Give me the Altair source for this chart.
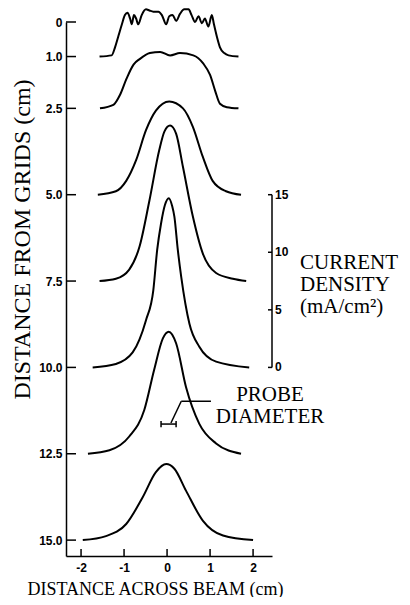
import altair as alt
import pandas as pd

# ---------------- data ----------------
# distance from grids (cm) of each trace (trace baseline sits at this distance)
distances = [1.0, 2.5, 5.0, 7.5, 10.0, 12.5, 15.0]

# distance across beam (cm) and current density (mA/cm^2) of each trace
x_d1 = [-1.57, -1.29, -1.21, -1.13, -1.05, -0.98, -0.92, -0.86, -0.82, -0.77, -0.72, -0.67,
        -0.59, -0.49, -0.41, -0.32, -0.20, -0.12, -0.02, 0.05, 0.13, 0.21, 0.30, 0.40,
        0.50, 0.57, 0.65, 0.73, 0.81, 0.88, 0.96, 1.04, 1.09, 1.16, 1.23, 1.33, 1.43, 1.66]
j_d1 = [0.0, 0.1, 0.8, 1.8, 2.8, 3.6, 3.8, 3.3, 2.8, 3.6, 3.3, 2.8,
        3.6, 4.1, 4.0, 3.9, 3.9, 3.6, 2.8, 3.5, 3.6, 3.1, 3.7, 4.1,
        4.1, 3.6, 3.0, 3.5, 2.9, 3.3, 2.6, 3.6, 2.8, 1.7, 0.8, 0.3, 0.1, 0.0]

x_d2 = [-1.56, -1.25, -1.09, -0.94, -0.78, -0.63, -0.40, -0.16, 0.07, 0.30, 0.61, 0.84,
        1.00, 1.12, 1.23, 1.39, 1.66]
j_d2 = [0.0, 0.3, 1.2, 2.6, 3.8, 4.3, 4.8, 4.9, 4.6, 4.8, 4.6, 3.9,
        2.9, 1.5, 0.4, 0.1, 0.0]

x_d3 = [-1.61, -1.19, -0.95, -0.72, -0.49, -0.26, 0.05, 0.37, 0.60, 0.83, 1.06, 1.37, 1.72]
j_d3 = [0.0, 0.3, 1.2, 3.0, 5.6, 7.3, 8.1, 7.5, 5.9, 3.3, 1.2, 0.3, 0.0]

x_d4 = [-1.57, -1.19, -0.88, -0.64, -0.41, -0.18, -0.06, 0.07, 0.21, 0.37, 0.60, 0.83,
        1.14, 1.53, 1.84]
j_d4 = [0.0, 0.2, 1.0, 3.0, 7.0, 11.4, 13.0, 13.5, 12.8, 9.9, 5.6, 2.4, 0.7, 0.2, 0.0]

x_d5 = [-1.73, -1.19, -0.80, -0.49, -0.32, -0.23, -0.14, -0.05, 0.04, 0.12, 0.17, 0.25,
        0.33, 0.52, 0.75, 1.14, 1.91]
j_d5 = [0.0, 0.3, 1.3, 4.1, 6.7, 10.2, 12.5, 14.1, 14.7, 14.0, 13.1, 10.2,
        7.85, 3.8, 1.8, 0.5, 0.0]

x_d6 = [-1.84, -1.34, -0.88, -0.53, -0.30, -0.10, 0.04, 0.21, 0.44, 0.75, 1.14, 1.72]
j_d6 = [0.0, 0.3, 1.5, 3.8, 7.3, 10.0, 10.6, 9.6, 5.8, 2.6, 0.9, 0.0]

x_d7 = [-1.96, -1.42, -0.95, -0.57, -0.26, -0.02, 0.17, 0.44, 0.83, 1.30, 2.00]
j_d7 = [0.0, 0.35, 1.4, 3.7, 5.9, 6.6, 6.2, 4.3, 1.7, 0.4, 0.0]

trace_x = [x_d1, x_d2, x_d3, x_d4, x_d5, x_d6, x_d7]
trace_j = [j_d1, j_d2, j_d3, j_d4, j_d5, j_d6, j_d7]

# 15 mA/cm^2 spans 5 cm of the distance axis
J_PER_CM = 3.0
# current-density scale bar: its zero sits on the 10.0 cm trace baseline
scale_base = 10.0
scale_ticks = [0, 5, 10, 15]
scale_labels = ["0", "5", "10", "15"]

y_ticks = [0, 1.0, 2.5, 5.0, 7.5, 10.0, 12.5, 15.0]
y_tick_labels = ["0", "1.0", "2.5", "5.0", "7.5", "10.0", "12.5", "15.0"]
x_ticks = [-2, -1, 0, 1, 2]
x_tick_labels = ["-2", "-1", "0", "1", "2"]

x_title = "DISTANCE ACROSS BEAM (cm)"
y_title = "DISTANCE FROM GRIDS (cm)"
density_text = ["CURRENT", "DENSITY", "(mA/cm²)"]
probe_text = ["PROBE", "DIAMETER"]

# probe-diameter bracket (cm) and its leader line
probe_x = [-0.14, 0.21]
probe_y = 11.64
leader_x = [1.02, 0.33, 0.09]
leader_y = [10.98, 10.98, 11.61]

# ---------------- build ----------------
rows = []
for d, xs, js in zip(distances, trace_x, trace_j):
    for i, (xv, jv) in enumerate(zip(xs, js)):
        rows.append({"dist": d, "x": xv, "j": jv, "i": i})
curves = pd.DataFrame(rows)


def label_expr(vals, labels):
    expr = "''"
    for v, l in reversed(list(zip(vals, labels))):
        expr = f"abs(datum.value - ({v})) < 1e-6 ? '{l}' : ({expr})"
    return expr


W, H = 206, 534
x_scale = alt.Scale(domain=[-2.35, 2.44], nice=False, zero=False)
y_scale = alt.Scale(domain=[0, 15.46], reverse=True, nice=False, zero=False)

LABEL_FONT = "Liberation Sans"
SERIF = "Liberation Serif"

x_axis = alt.Axis(
    values=x_ticks, labelExpr=label_expr(x_ticks, x_tick_labels),
    labelFont=LABEL_FONT, labelFontSize=12, labelFontWeight="bold", labelColor="black",
    labelPadding=6, labelOverlap=False, ticks=False, tickSize=0, grid=False,
    domainColor="black", domainWidth=1.5,
    title=x_title, titleFont=SERIF, titleFontSize=18, titleFontWeight="normal",
    titleColor="black", titleX=89, titleY=38, titleAlign="center",
    titleBaseline="alphabetic",
)
y_axis = alt.Axis(
    values=y_ticks, labelExpr=label_expr(y_ticks, y_tick_labels),
    labelFont=LABEL_FONT, labelFontSize=12, labelFontWeight="bold", labelColor="black",
    labelPadding=4, labelOverlap=False, ticks=False, tickSize=0, grid=False,
    domainColor="black", domainWidth=1.5,
    title=y_title, titleFont=SERIF, titleFontSize=24, titleFontWeight="normal",
    titleColor="black", titleAngle=270, titleX=-44, titleY=217,
    titleAlign="center", titleBaseline="middle",
)

lines = alt.Chart(curves).transform_calculate(
    y=f"datum.dist - datum.j / {J_PER_CM}"
).mark_line(color="black", strokeWidth=2, interpolate="monotone").encode(
    x=alt.X("x:Q", scale=x_scale, axis=x_axis),
    y=alt.Y("y:Q", scale=y_scale, axis=y_axis),
    detail="dist:N",
    order="i:Q",
)

ytick_rules = alt.Chart(pd.DataFrame({"y": y_ticks})).mark_rule(
    color="black", strokeWidth=1.5
).encode(
    y=alt.Y("y:Q", scale=y_scale),
    x=alt.value(0), x2=alt.value(10),
)

xtick_rules = alt.Chart(pd.DataFrame({"x": x_ticks})).mark_rule(
    color="black", strokeWidth=1.5
).encode(
    x=alt.X("x:Q", scale=x_scale),
    y=alt.value(H), y2=alt.value(H - 7),
)

scale_df = pd.DataFrame({"v": scale_ticks, "lab": scale_labels})
bar = alt.Chart(pd.DataFrame({"lo": [min(scale_ticks)], "hi": [max(scale_ticks)]})).transform_calculate(
    y=f"{scale_base} - datum.hi / {J_PER_CM}",
    yb=f"{scale_base} - datum.lo / {J_PER_CM}",
).mark_rule(color="black", strokeWidth=1.5).encode(
    y=alt.Y("y:Q", scale=y_scale), y2="yb:Q", x=alt.value(W),
)
bar_ticks = alt.Chart(scale_df).transform_calculate(
    y=f"{scale_base} - datum.v / {J_PER_CM}"
).mark_rule(color="black", strokeWidth=1.5).encode(
    y=alt.Y("y:Q", scale=y_scale), x=alt.value(W - 4), x2=alt.value(W),
)
bar_labels = alt.Chart(scale_df).transform_calculate(
    y=f"{scale_base} - datum.v / {J_PER_CM}"
).mark_text(
    align="left", baseline="middle", font=LABEL_FONT, fontSize=12, fontWeight="bold", color="black"
).encode(
    y=alt.Y("y:Q", scale=y_scale), x=alt.value(W + 3), text="lab:N",
)

density_label = alt.Chart(pd.DataFrame({"t": ["\n".join(density_text)]})).mark_text(
    align="left", baseline="middle", font=SERIF, fontSize=21, lineHeight=22,
    lineBreak="\n", color="black",
).encode(x=alt.value(234), y=alt.value(241), text="t:N")

probe_label = alt.Chart(pd.DataFrame({"t": ["\n".join(probe_text)]})).mark_text(
    align="center", baseline="middle", font=SERIF, fontSize=21, lineHeight=22,
    lineBreak="\n", color="black",
).encode(x=alt.value(204), y=alt.value(373), text="t:N")

segs = pd.DataFrame({
    "x": [leader_x[0], leader_x[1], probe_x[0], probe_x[0], probe_x[1]],
    "x2": [leader_x[1], leader_x[2], probe_x[1], probe_x[0], probe_x[1]],
    "y": [leader_y[0], leader_y[1], probe_y, probe_y - 0.09, probe_y - 0.09],
    "y2": [leader_y[1], leader_y[2], probe_y, probe_y + 0.09, probe_y + 0.09],
})
probe_marks = alt.Chart(segs).mark_rule(color="black", strokeWidth=1.5).encode(
    x=alt.X("x:Q", scale=x_scale), x2="x2:Q",
    y=alt.Y("y:Q", scale=y_scale), y2="y2:Q",
)

chart = alt.layer(
    lines, ytick_rules, xtick_rules, bar, bar_ticks, bar_labels,
    density_label, probe_label, probe_marks,
).properties(
    width=W, height=H,
    autosize=alt.AutoSizeParams(type="none"),
    padding={"left": 58, "top": 14, "right": 130, "bottom": 41},
    background="white",
).configure_view(stroke=None)

chart.save("out.html", embed_options={"renderer": "svg", "actions": False})
